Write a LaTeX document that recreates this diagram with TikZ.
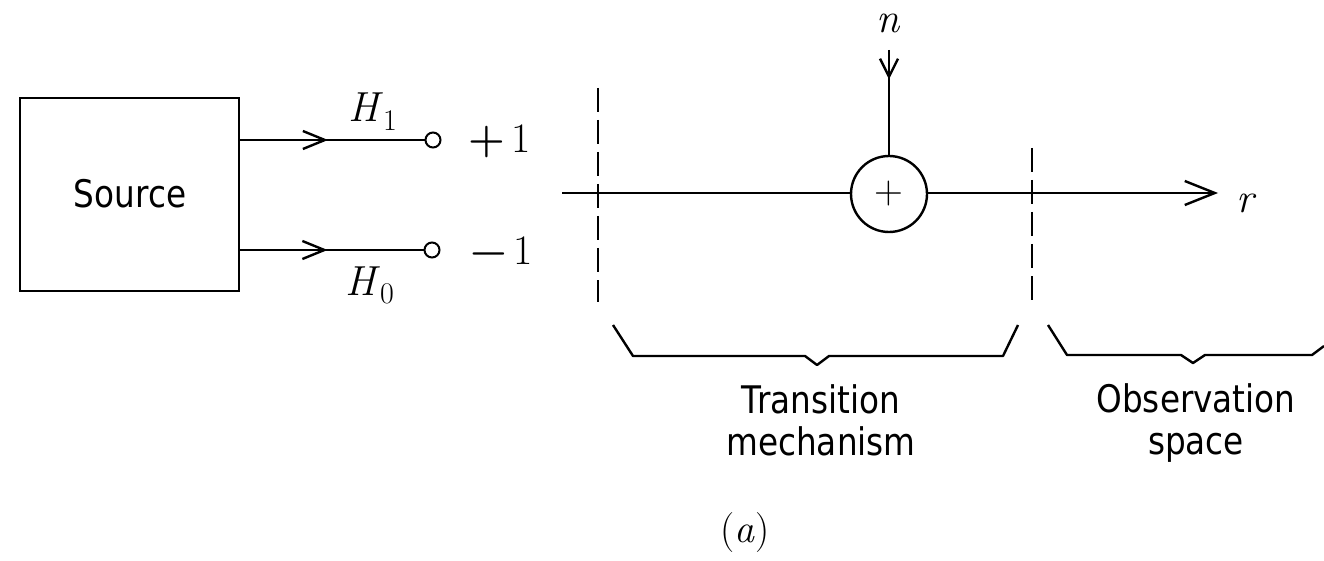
\documentclass[tikz,border=0pt]{standalone}
\usepackage{fontspec}
\newfontfamily\lblfont[FakeStretch=0.86]{DejaVu Sans}
\usetikzlibrary{arrows.meta,decorations.markings}
\newcommand{\subidx}[1]{\raisebox{-0.2em}{\fontsize{30}{32}\selectfont #1}}
\begin{document}
\begin{tikzpicture}[x=1pt,y=-1pt,
  ln/.style={line width=2.4pt},
  barb/.style={-{Straight Barb[length=30pt,width=24pt,line width=2.4pt]}},
  midbarb/.style 2 args={postaction={decorate,decoration={markings,
      mark=at position #1 with {\arrow{Straight Barb[length=#2,width=18pt,line width=2.4pt]}}}}},
  lbl/.style={font=\fontsize{38}{42}\selectfont\lblfont, align=center, inner sep=0pt},
  mth/.style={font=\fontsize{42}{46}\selectfont, inner sep=0pt},
  term/.style={circle, draw, line width=2pt, minimum size=15pt, inner sep=0pt},
  dsh/.style={line width=2.4pt, dash pattern=on 24pt off 8pt},
  brace/.style={line width=2.4pt, line join=round}]
\useasboundingbox (0,0) rectangle (1324,561);
% source
\node[draw, line width=2.8pt, minimum width=219pt, minimum height=193pt, inner sep=0pt] (src) at (129.5,194.5) {};
\node[lbl, anchor=base] (srct) at (130,208) {Source};
\coordinate (s1) at (239,140);
\coordinate (s0) at (239,250);
\node[term] (t1) at (433,140) {};
\node[term] (t0) at (432,250) {};
\draw[ln, midbarb={0.48}{22pt}] (s1) -- (t1);
\draw[ln, midbarb={0.48}{22pt}] (s0) -- (t0);
\node[mth, anchor=base west] (h1) at (348,122) {\textit{H}\subidx{1}};
\node[mth, anchor=base west] (h0) at (345,295) {\textit{H}\subidx{0}};
\node[mth, anchor=base west] (p1) at (468,153) {\textbf{+}\,1};
\node[mth, anchor=base west] (m1) at (470,265) {\textbf{−}\,1};
% channel
\coordinate (in) at (562,193);
\node[circle, draw, line width=2.4pt, minimum size=76pt, inner sep=0pt] (sum) at (889,194) {};
\node[font=\fontsize{40}{44}\selectfont, inner sep=0pt] (plus) at (889,194) {+};
\coordinate (out) at (1218,193);
\draw[ln] (in) -- (sum.west |- in);
\draw[ln, barb] (sum.east |- in) -- (out);
\node[mth, anchor=base west] (r) at (1236,213) {\textit{r}};
\node[mth, anchor=base] (n) at (889,33) {\textit{n}};
\coordinate (ntop) at (889,50);
\draw[ln, midbarb={0.28}{18pt}] (ntop) -- (sum.north);
% dashed boundaries
\coordinate (d1a) at (598,88);
\coordinate (d1b) at (598,302);
\coordinate (d2a) at (1032,148);
\coordinate (d2b) at (1032,303);
\draw[dsh] (d1a) -- (d1b);
\draw[dsh] (d2a) -- (d2b);
% braces
\draw[brace] (613,325) -- (633,356) -- (805,356) -- (817,365) -- (829,356) -- (1003,356) -- (1018,325);
\draw[brace] (1048,325) -- (1067,355) -- (1181,355) -- (1193,363) -- (1205,355) -- (1312,355) -- (1324,346);
\node[lbl, anchor=base] (tm) at (821,455) {Transition\\mechanism};
\node[lbl, anchor=base] (os) at (1196,454) {Observation\\space};
\node[font=\fontsize{40}{44}\selectfont, inner sep=0pt, anchor=base] (cap) at (745,542) {(\textit{a})};
\end{tikzpicture}
\end{document}
